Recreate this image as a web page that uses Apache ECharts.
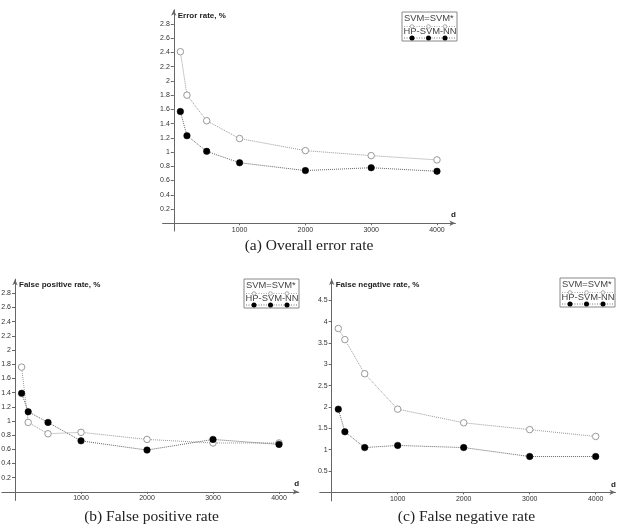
<!DOCTYPE html>
<html>
<head>
<meta charset="utf-8">
<script src="https://cdn.jsdelivr.net/npm/echarts@6/dist/echarts.min.js"></script>
<style>
  html, body { margin: 0; padding: 0; background: #fff; }
  #chart { width: 633px; height: 529px; }
</style>
</head>
<body>
<div id="chart"></div>
<script>
// training set size d
var dValues = [100, 200, 500, 1000, 2000, 3000, 4000];

// (a) overall error rate, %
var errSvm = [2.41, 1.80, 1.44, 1.19, 1.02, 0.95, 0.89];
var errHp  = [1.57, 1.23, 1.01, 0.85, 0.74, 0.78, 0.73];
// (b) false positive rate, %
var fpSvm = [1.76, 0.98, 0.82, 0.84, 0.74, 0.69, 0.69];
var fpHp  = [1.39, 1.13, 0.98, 0.72, 0.59, 0.74, 0.67];
// (c) false negative rate, %
var fnSvm = [3.84, 3.58, 2.78, 1.95, 1.63, 1.47, 1.31];
var fnHp  = [1.95, 1.42, 1.05, 1.10, 1.05, 0.84, 0.84];

var xTicks = [1000, 2000, 3000, 4000];
var yTicksRate = [0.2, 0.4, 0.6, 0.8, 1, 1.2, 1.4, 1.6, 1.8, 2, 2.2, 2.4, 2.6, 2.8];
var yTicksFn = [0.5, 1, 1.5, 2, 2.5, 3, 3.5, 4, 4.5];

var seriesNames = ['SVM=SVM*', 'HP-SVM-NN'];
var yTitles = ['Error rate, %', 'False positive rate, %', 'False negative rate, %'];
var captions = ['(a) Overall error rate', '(b) False positive rate', '(c) False negative rate'];

var sans = 'Liberation Sans';
var axisGray = '#666';

function pairs(ys) {
  return dValues.map(function(d, i) { return [d, ys[i]]; });
}

var panels = [
  { grid: { left: 162.6, top: 9.75, width: 292.8, height: 221.3 }, xMin: -170, xMax: 4280, yMin: -0.11, yMax: 3.0, yTicks: yTicksRate, svm: errSvm, hp: errHp, legend: [402, 12], caption: [309, 247.5] },
  { grid: { left: 1.8, top: 279.2, width: 297, height: 221.2 }, xMin: -200, xMax: 4300, yMin: -0.12, yMax: 3.0, yTicks: yTicksRate, svm: fpSvm, hp: fpHp, legend: [244, 279], caption: [151.5, 518] },
  { grid: { left: 319.8, top: 279, width: 295.7, height: 221.9 }, xMin: -180, xMax: 4300, yMin: -0.2, yMax: 5.0, yTicks: yTicksFn, svm: fnSvm, hp: fnHp, legend: [560, 278], caption: [466.5, 518] }
];

var grids = [], xAxes = [], yAxes = [], series = [], titles = [], graphics = [];

panels.forEach(function(p, i) {
  var g = p.grid;
  // axes cross at the origin, a little inside the grid box
  var yShift = (0 - p.xMin) / (p.xMax - p.xMin) * g.width;
  var xShift = (0 - p.yMin) / (p.yMax - p.yMin) * g.height;
  grids.push({ left: g.left, top: g.top, width: g.width, height: g.height, containLabel: false, outerBoundsMode: 'none' });
  xAxes.push({
    type: 'value', gridIndex: i, min: p.xMin, max: p.xMax, offset: -xShift,
    name: 'd', nameLocation: 'end', nameGap: -2,
    nameTextStyle: { fontFamily: sans, fontSize: 8, fontWeight: 'bold', color: '#222', align: 'center', verticalAlign: 'bottom', padding: [0, 0, 4, 0] },
    axisLine: { onZero: false, symbol: ['none', 'arrow'], symbolSize: [4, 6], lineStyle: { color: axisGray, width: 1 } },
    axisTick: { show: true, length: 2, customValues: xTicks, lineStyle: { color: axisGray } },
    axisLabel: { customValues: xTicks, margin: 3, fontFamily: sans, fontSize: 7, color: '#333', formatter: function(v) { return String(v); } },
    splitLine: { show: false }
  });
  yAxes.push({
    type: 'value', gridIndex: i, min: p.yMin, max: p.yMax, offset: -yShift,
    name: yTitles[i], nameLocation: 'end', nameGap: -6,
    nameTextStyle: { fontFamily: sans, fontSize: 8, fontWeight: 'bold', color: '#222', align: 'left', verticalAlign: 'middle', padding: [0, 0, 0, 4] },
    axisLine: { onZero: false, symbol: ['none', 'arrow'], symbolSize: [4, 6], lineStyle: { color: axisGray, width: 1 } },
    axisTick: { show: true, length: 3, customValues: p.yTicks, lineStyle: { color: axisGray } },
    axisLabel: { customValues: p.yTicks, margin: 4, fontFamily: sans, fontSize: 7, color: '#333' },
    splitLine: { show: false }
  });
  series.push({
    name: seriesNames[0], type: 'line', xAxisIndex: i, yAxisIndex: i,
    data: pairs(p.svm), symbol: 'circle', symbolSize: 6.5,
    lineStyle: { type: 'dotted', color: '#999', width: 1 },
    itemStyle: { color: '#fff', borderColor: '#999', borderWidth: 1 },
    z: 2
  });
  series.push({
    name: seriesNames[1], type: 'line', xAxisIndex: i, yAxisIndex: i,
    data: pairs(p.hp), symbol: 'circle', symbolSize: 6.5,
    lineStyle: { type: 'dotted', color: '#666', width: 1 },
    itemStyle: { color: '#000', borderColor: '#000', borderWidth: 0.5 },
    z: 3
  });
  titles.push({
    text: captions[i], left: p.caption[0], top: p.caption[1] - 9.5, textAlign: 'center', padding: 0,
    textStyle: { fontFamily: 'Liberation Serif', fontSize: 15.5, fontWeight: 'normal', color: '#222' }
  });

  // legend box: label on top, sample line with markers underneath
  var bx = p.legend[0], by = p.legend[1];
  var kids = [
    { type: 'rect', shape: { x: bx, y: by, width: 55, height: 29 }, style: { fill: '#fff', stroke: '#888', lineWidth: 1 } },
    { type: 'line', shape: { x1: bx + 2, y1: by + 14.5, x2: bx + 53, y2: by + 14.5 }, style: { stroke: '#aaa', lineDash: [1, 1.5], lineWidth: 1 } },
    { type: 'line', shape: { x1: bx + 2, y1: by + 26, x2: bx + 53, y2: by + 26 }, style: { stroke: '#777', lineDash: [1, 1.5], lineWidth: 1 } },
    { type: 'text', style: { text: seriesNames[0], x: bx + 2, y: by + 6.5, fontFamily: sans, fontSize: 9.4, fill: '#444', verticalAlign: 'middle' } },
    { type: 'text', style: { text: seriesNames[1], x: bx + 1.5, y: by + 19.5, fontFamily: sans, fontSize: 9.4, fill: '#444', verticalAlign: 'middle' } }
  ];
  [10, 26.5, 43].forEach(function(dx) {
    kids.push({ type: 'circle', shape: { cx: bx + dx, cy: by + 14.5, r: 1.8 }, style: { fill: '#fff', stroke: '#aaa', lineWidth: 1 } });
    kids.push({ type: 'circle', shape: { cx: bx + dx, cy: by + 26, r: 2.5 }, style: { fill: '#000' } });
  });
  graphics.push({ type: 'group', children: kids });
});

var chart = echarts.init(document.getElementById('chart'), null, { renderer: 'canvas' });
chart.setOption({
  animation: false,
  backgroundColor: '#fff',
  title: titles,
  grid: grids,
  xAxis: xAxes,
  yAxis: yAxes,
  series: series,
  graphic: graphics
});
</script>
</body>
</html>
